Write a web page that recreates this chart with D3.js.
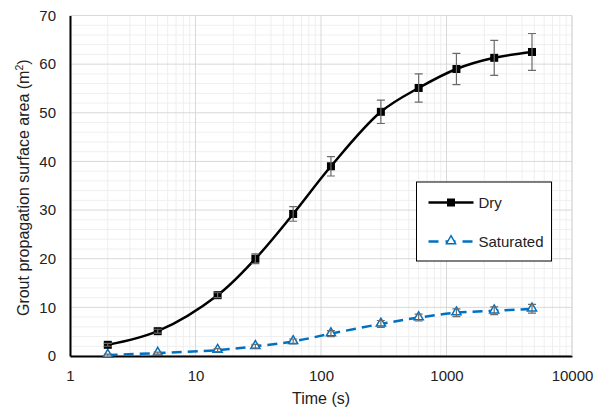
<!DOCTYPE html>
<html>
<head>
<meta charset="utf-8">
<script src="https://cdnjs.cloudflare.com/ajax/libs/d3/7.8.5/d3.min.js"></script>
<style>
  body { margin: 0; background: #fff; }
  text { font-family: "Liberation Sans", Arial, sans-serif; fill: #222; }
</style>
</head>
<body>
<div id="chartEl"></div>
<script>
const times = [2, 5, 15, 30, 60, 120, 300, 600, 1200, 2400, 4800];
const dry = [2.3, 5.1, 12.5, 20, 29.2, 39, 50.2, 55.1, 59, 61.3, 62.5];
const dryErr = [0.3, 0.4, 0.5, 1.0, 1.5, 2.0, 2.4, 2.9, 3.2, 3.6, 3.8];
const saturated = [0.2, 0.6, 1.2, 2.0, 3.0, 4.6, 6.6, 7.9, 8.9, 9.3, 9.7];
const satErr = [0.2, 0.2, 0.3, 0.4, 0.5, 0.6, 0.7, 0.7, 0.8, 0.8, 0.9];
const xTicks = [1, 10, 100, 1000, 10000];
const yTicks = [0, 10, 20, 30, 40, 50, 60, 70];

function foo () {
  const width = 606;
  const height = 411;
  const margin = {top: 15.5, right: 34, bottom: 55, left: 70};
  const w = width - margin.left - margin.right;
  const h = height - margin.top - margin.bottom;

  const x = d3.scaleLog().domain([1, 10000]).range([0, w]);
  const y = d3.scaleLinear().domain([0, 70]).range([h, 0]);

  const svg = d3.select('#chartEl').append('svg')
    .attr('width', width)
    .attr('height', height)
    .append('g')
    .attr('transform', 'translate(' + margin.left + ',' + margin.top + ')');

  // minor grid
  const minorX = [];
  for (let p = 1; p < 10000; p *= 10) {
    for (let k = 2; k <= 9; k++) minorX.push(p * k);
  }
  svg.selectAll('.mx').data(minorX).enter().append('line')
    .attr('x1', d => x(d)).attr('x2', d => x(d))
    .attr('y1', 0).attr('y2', h)
    .attr('stroke', '#efefef').attr('stroke-width', 1);
  svg.selectAll('.my').data(d3.range(2, 70, 2).filter(d => d % 10 !== 0)).enter().append('line')
    .attr('x1', 0).attr('x2', w)
    .attr('y1', d => y(d)).attr('y2', d => y(d))
    .attr('stroke', '#efefef').attr('stroke-width', 1);

  // major grid
  svg.selectAll('.gx').data(xTicks).enter().append('line')
    .attr('x1', d => x(d)).attr('x2', d => x(d))
    .attr('y1', 0).attr('y2', h)
    .attr('stroke', '#d9d9d9').attr('stroke-width', 1);
  svg.selectAll('.gy').data(yTicks).enter().append('line')
    .attr('x1', 0).attr('x2', w)
    .attr('y1', d => y(d)).attr('y2', d => y(d))
    .attr('stroke', '#d9d9d9').attr('stroke-width', 1);

  // axes
  const xAxis = svg.append('g')
    .attr('transform', 'translate(0,' + h + ')')
    .call(d3.axisBottom(x).tickValues(xTicks).tickFormat(d3.format('d')).tickSize(0).tickPadding(14));
  xAxis.select('.domain').attr('stroke', '#000').attr('stroke-width', 2);
  xAxis.selectAll('text').style('font-size', '15px').attr('fill', '#222');

  const yAxis = svg.append('g')
    .call(d3.axisLeft(y).tickValues(yTicks).tickSize(0).tickPadding(14));
  yAxis.select('.domain').attr('stroke', '#000').attr('stroke-width', 2);
  yAxis.selectAll('text').style('font-size', '15px').attr('fill', '#222');

  // titles
  svg.append('text')
    .attr('x', w / 2).attr('y', h + 48)
    .attr('text-anchor', 'middle')
    .style('font-size', '16px')
    .text('Time (s)');
  const yt = svg.append('text')
    .attr('transform', 'translate(' + (-41) + ',' + (h / 2 + 2) + ') rotate(-90)')
    .attr('text-anchor', 'middle')
    .style('font-size', '16px');
  yt.append('tspan').text('Grout propagation surface area (m');
  yt.append('tspan').attr('baseline-shift', 'super').style('font-size', '10.5px').text('2');
  yt.append('tspan').text(')');

  const dryData = times.map((t, i) => ({t, v: dry[i], e: dryErr[i]}));
  const satData = times.map((t, i) => ({t, v: saturated[i], e: satErr[i]}));

  const line = d3.line().x(d => x(d.t)).y(d => y(d.v)).curve(d3.curveCatmullRom.alpha(0.5));

  const blue = '#0070c0';
  const errColor = '#6b6b6b';

  function errorBars (data) {
    const g = svg.append('g');
    g.selectAll('.eb').data(data).enter().append('path')
      .attr('d', d => {
        const cx = x(d.t), y0 = y(d.v - d.e), y1 = y(d.v + d.e);
        return 'M' + cx + ',' + y0 + 'V' + y1 +
          'M' + (cx - 4) + ',' + y0 + 'H' + (cx + 4) +
          'M' + (cx - 4) + ',' + y1 + 'H' + (cx + 4);
      })
      .attr('fill', 'none').attr('stroke', errColor).attr('stroke-width', 1.2);
  }

  // saturated
  svg.append('path').datum(satData)
    .attr('d', line)
    .attr('fill', 'none').attr('stroke', blue).attr('stroke-width', 2.5)
    .attr('stroke-dasharray', '10,6');
  const tri = d3.symbol().type(d3.symbolTriangle).size(36);
  svg.selectAll('.tri').data(satData).enter().append('path')
    .attr('d', tri)
    .attr('transform', d => 'translate(' + x(d.t) + ',' + (y(d.v) - 0.5) + ')')
    .attr('fill', '#fff').attr('stroke', blue).attr('stroke-width', 1.5);
  errorBars(satData);

  // dry
  svg.append('path').datum(dryData)
    .attr('d', line)
    .attr('fill', 'none').attr('stroke', '#000').attr('stroke-width', 2.5);
  svg.selectAll('.sq').data(dryData).enter().append('rect')
    .attr('x', d => x(d.t) - 4).attr('y', d => y(d.v) - 4)
    .attr('width', 8).attr('height', 8)
    .attr('fill', '#000');
  errorBars(dryData);

  // top/right frame
  svg.append('path')
    .attr('d', 'M0,0H' + w + 'V' + h)
    .attr('fill', 'none').attr('stroke', '#d9d9d9').attr('stroke-width', 1);

  // legend
  const lg = svg.append('g').attr('transform', 'translate(' + (416.5 - margin.left) + ',' + (182 - margin.top) + ')');
  lg.append('rect').attr('width', 135).attr('height', 79)
    .attr('fill', '#fff').attr('stroke', '#000').attr('stroke-width', 1);
  lg.append('line').attr('x1', 12).attr('x2', 57).attr('y1', 20.5).attr('y2', 20.5)
    .attr('stroke', '#000').attr('stroke-width', 2.5);
  lg.append('rect').attr('x', 30.5).attr('y', 16.5).attr('width', 8).attr('height', 8).attr('fill', '#000');
  lg.append('text').attr('x', 62).attr('y', 26).style('font-size', '15px').text('Dry');
  lg.append('line').attr('x1', 12).attr('x2', 57).attr('y1', 59.5).attr('y2', 59.5)
    .attr('stroke', blue).attr('stroke-width', 2.5).attr('stroke-dasharray', '10,7');
  lg.append('path').attr('d', tri).attr('transform', 'translate(34.5,59)')
    .attr('fill', '#fff').attr('stroke', blue).attr('stroke-width', 1.5);
  lg.append('text').attr('x', 62).attr('y', 65).style('font-size', '15px').text('Saturated');
}

foo();
</script>
</body>
</html>
